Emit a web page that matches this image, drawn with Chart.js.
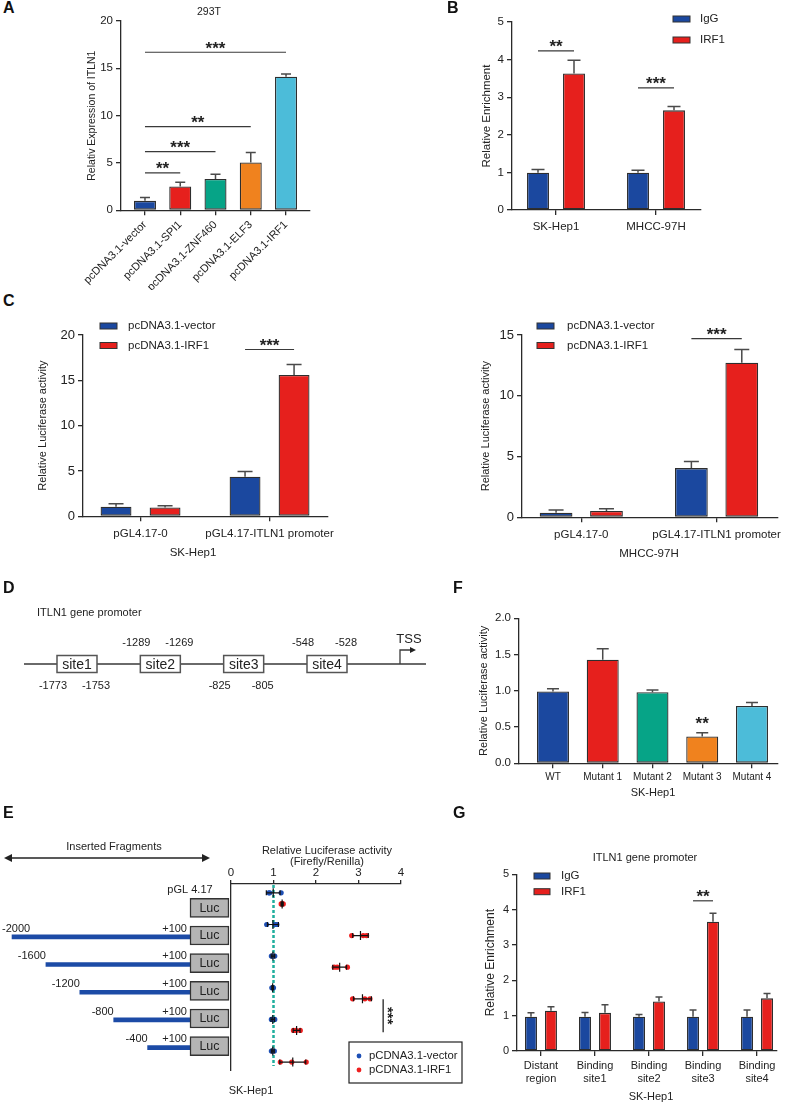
<!DOCTYPE html>
<html>
<head>
<meta charset="utf-8">
<title>IRF1 / ITLN1 figure</title>
<script src="https://cdn.jsdelivr.net/npm/chart.js@4.4.1/dist/chart.umd.min.js"></script>
<style>
  html, body { margin: 0; padding: 0; background: #fff; }
  #fig { position: relative; width: 788px; height: 1104px; background: #fff; overflow: hidden; }
  #fig canvas { position: absolute; }
  .tag { position: absolute; font: bold 16px/16px "Liberation Sans", Arial, sans-serif; color: #111; }
</style>
</head>
<body>
<div id="fig">
  <canvas id="cA"></canvas>
  <canvas id="cB"></canvas>
  <canvas id="cC1"></canvas>
  <canvas id="cC2"></canvas>
  <canvas id="cD"></canvas>
  <canvas id="cE1"></canvas>
  <canvas id="cE2"></canvas>
  <canvas id="cF"></canvas>
  <canvas id="cG"></canvas>
  <div class="tag" style="left:3px;top:0px">A</div>
  <div class="tag" style="left:447px;top:0px">B</div>
  <div class="tag" style="left:3px;top:293px">C</div>
  <div class="tag" style="left:3px;top:580px">D</div>
  <div class="tag" style="left:3px;top:805px">E</div>
  <div class="tag" style="left:453px;top:580px">F</div>
  <div class="tag" style="left:453px;top:805px">G</div>
</div>
<script>
// ---- data ----
// A: 293T, ITLN1 expression
const aLabels = ['pcDNA3.1-vector', 'pcDNA3.1-SPI1', 'pcDNA3.1-ZNF460', 'pcDNA3.1-ELF3', 'pcDNA3.1-IRF1'];
const aMean = [1.0, 2.52, 3.32, 5.05, 14.12];
const aErrTop = [1.34, 2.97, 3.8, 6.1, 14.4];
const aYTicks = [0, 5, 10, 15, 20];
const aSig = [[4, 16.7, '***'], [3, 8.85, '**'], [2, 6.2, '***'], [1, 3.95, '**']]; // vs vector

// B: ChIP, relative enrichment
const bGroups = ['SK-Hep1', 'MHCC-97H'];
const bIgG = [0.99, 0.99];
const bIgGErr = [1.08, 1.06];
const bIRF1 = [3.63, 2.65];
const bIRF1Err = [3.98, 2.75];
const bYTicks = [0, 1, 2, 3, 4, 5];
const bSig = [[0, 4.23, '**'], [1, 3.25, '***']];

// C: luciferase, two cell lines
const cGroups = ['pGL4.17-0', 'pGL4.17-ITLN1 promoter'];
const cSkVector = [1.05, 4.37];
const cSkVectorErr = [1.38, 4.95];
const cSkIRF1 = [0.98, 15.6];
const cSkIRF1Err = [1.16, 16.75];
const cSkYTicks = [0, 5, 10, 15, 20];
const cSkSig = [[1, 18.4, '***']];
const cMhVector = [0.38, 4.05];
const cMhVectorErr = [0.6, 4.6];
const cMhIRF1 = [0.52, 12.72];
const cMhIRF1Err = [0.71, 13.8];
const cMhYTicks = [0, 5, 10, 15];
const cMhSig = [[1, 14.7, '***']];

// D: promoter sites
const dSites = ['site1', 'site2', 'site3', 'site4'];
const dFrom = [-1773, -1289, -825, -548];
const dTo = [-1753, -1269, -805, -528];

// E: truncation constructs (row 0 = empty pGL4.17)
const eStart = [null, -2000, -1600, -1200, -800, -400];
const eEnd = 100;
const eVector = [[0.91, 0.89, 1.18], [0.84, 1.04, 1.08], [0.95, 1.03, 0.98], [0.96, 1.0, 0.98], [0.95, 1.03, 0.97], [0.95, 1.02, 0.98]];
const eIRF1 = [[1.18, 1.2, 1.23], [2.84, 3.11, 3.19], [2.43, 2.5, 2.74], [2.86, 3.15, 3.27], [1.47, 1.53, 1.63], [1.16, 1.43, 1.77]];
const eXTicks = [0, 1, 2, 3, 4];
const eRef = 1;
const eSig = { x: 3.58, from: 3.2, to: 4.25, text: '***' };

// F: site mutants
const fLabels = ['WT', 'Mutant 1', 'Mutant 2', 'Mutant 3', 'Mutant 4'];
const fMean = [0.99, 1.43, 0.98, 0.37, 0.79];
const fErrTop = [1.03, 1.58, 1.01, 0.42, 0.84];
const fYTicks = [0, 0.5, 1, 1.5, 2];
const fSig = [[3, 0.5, '**']];

// G: ChIP on binding sites
const gLabels = [['Distant', 'region'], ['Binding', 'site1'], ['Binding', 'site2'], ['Binding', 'site3'], ['Binding', 'site4']];
const gIgG = [0.97, 0.97, 0.97, 0.97, 0.97];
const gIgGErr = [1.08, 1.09, 1.03, 1.16, 1.16];
const gIRF1 = [1.14, 1.08, 1.4, 3.66, 1.49];
const gIRF1Err = [1.25, 1.31, 1.53, 3.9, 1.63];
const gYTicks = [0, 1, 2, 3, 4, 5];
const gSig = [[3, 4.25, '**']];

// ---- style ----
const FONT = '"Liberation Sans", Arial, sans-serif';
const TXT = '#222';
const AX = '#2a2a2a';
const BLUE = '#1b489f', RED = '#e6201d', GREEN = '#06a487', ORANGE = '#f0821e', CYAN = '#4cbcd9';

Chart.defaults.font.family = FONT;
Chart.defaults.color = TXT;
Chart.defaults.animation = false;
Chart.defaults.responsive = false;
Chart.defaults.plugins.legend.display = false;
Chart.defaults.plugins.tooltip.enabled = false;

function place(id, box) {
  const cv = document.getElementById(id);
  cv.width = box[2];
  cv.height = box[3];
  cv.style.left = box[0] + 'px';
  cv.style.top = box[1] + 'px';
  return cv;
}

// free text, given in page coordinates
function textLayer(items) {
  return {
    id: 'textLayer',
    afterDraw(chart) {
      const ctx = chart.ctx, ox = chart.canvas.offsetLeft, oy = chart.canvas.offsetTop;
      items.forEach(it => {
        ctx.save();
        ctx.font = (it.w || '') + ' ' + (it.s || 11) + 'px ' + FONT;
        ctx.fillStyle = TXT;
        ctx.textAlign = it.a || 'center';
        ctx.textBaseline = 'middle';
        ctx.translate(it.x - ox, it.y - oy);
        if (it.r) ctx.rotate(it.r);
        ctx.fillText(it.t, 0, 0);
        ctx.restore();
      });
    }
  };
}

function errorBars(cap) {
  return {
    id: 'errorBars',
    afterDatasetsDraw(chart) {
      const ctx = chart.ctx, ys = chart.scales.y;
      chart.data.datasets.forEach((ds, di) => {
        chart.getDatasetMeta(di).data.forEach((bar, i) => {
          const top = ys.getPixelForValue(ds.err[i]);
          ctx.save();
          ctx.strokeStyle = '#4a4a4a';
          ctx.lineWidth = 1.5;
          ctx.beginPath();
          ctx.moveTo(bar.x, bar.y);
          ctx.lineTo(bar.x, top);
          ctx.moveTo(bar.x - cap / 2, top);
          ctx.lineTo(bar.x + cap / 2, top);
          ctx.stroke();
          ctx.restore();
        });
      });
    }
  };
}

function sigMarks(marks) {
  return {
    id: 'sigMarks',
    afterDatasetsDraw(chart) {
      const ctx = chart.ctx, ys = chart.scales.y;
      marks.forEach(m => {
        const a = chart.getDatasetMeta(m.a[0]).data[m.a[1]];
        const b = chart.getDatasetMeta(m.b[0]).data[m.b[1]];
        const y = ys.getPixelForValue(m.y);
        ctx.save();
        if (m.line !== false) {
          ctx.strokeStyle = '#3a3a3a';
          ctx.lineWidth = 1.2;
          ctx.beginPath();
          ctx.moveTo(a.x, y);
          ctx.lineTo(b.x, y);
          ctx.stroke();
        }
        ctx.fillStyle = TXT;
        ctx.font = 'bold 17px ' + FONT;
        ctx.textAlign = 'center';
        ctx.textBaseline = 'alphabetic';
        ctx.fillText(m.text, (a.x + b.x) / 2, y + 1.5);
        ctx.restore();
      });
    }
  };
}

function boxLegend(cfg) {
  return {
    id: 'boxLegend',
    afterDraw(chart) {
      if (!cfg) return;
      const ctx = chart.ctx, ox = chart.canvas.offsetLeft, oy = chart.canvas.offsetTop;
      chart.data.datasets.forEach((ds, i) => {
        const y = cfg.y + i * cfg.dy - oy;
        ctx.save();
        ctx.fillStyle = ds.backgroundColor;
        ctx.fillRect(cfg.x - ox, y - cfg.h / 2, cfg.w, cfg.h);
        ctx.strokeStyle = '#333';
        ctx.lineWidth = 1;
        ctx.strokeRect(cfg.x - ox, y - cfg.h / 2, cfg.w, cfg.h);
        ctx.fillStyle = TXT;
        ctx.font = cfg.size + 'px ' + FONT;
        ctx.textAlign = 'left';
        ctx.textBaseline = 'middle';
        ctx.fillText(ds.label, cfg.tx - ox, y);
        ctx.restore();
      });
    }
  };
}

// bar chart on a linear index axis so the group spacing can be set exactly
function barChart(o) {
  const [bx, by, bw, bh] = o.box;
  const [l, t, r, b] = o.area;
  const cv = place(o.id, o.box);
  const padL = o.yTitleX - bx - o.yTitleSize * 0.6;
  return new Chart(cv, {
    type: 'bar',
    data: {
      datasets: o.series.map(s => ({
        label: s.label,
        data: s.values.map((v, i) => ({ x: i, y: v })),
        err: s.err,
        backgroundColor: s.color,
        borderColor: '#2e2e2e',
        borderWidth: 1.3,
        borderSkipped: false,
        categoryPercentage: o.catPct,
        barPercentage: o.barPct
      }))
    },
    options: {
      layout: { padding: { left: padL, top: t - by, right: bx + bw - r, bottom: 0 } },
      scales: {
        x: {
          type: 'linear', min: o.xRange[0], max: o.xRange[1], offset: false,
          afterBuildTicks: s => { s.ticks = o.labels.map((_, i) => ({ value: i })); },
          afterFit: s => { s.height = by + bh - b; },
          grid: { offset: false, drawOnChartArea: false, tickLength: 5, color: AX, lineWidth: 1.3 },
          border: { color: AX, width: 1.3 },
          ticks: {
            autoSkip: false, maxRotation: o.rot || 0, minRotation: o.rot || 0,
            padding: o.xPad, color: TXT, font: { size: o.xFont },
            callback: v => o.labels[v]
          }
        },
        y: {
          min: o.yTicks[0], max: o.yTicks[o.yTicks.length - 1],
          afterBuildTicks: s => { s.ticks = o.yTicks.map(v => ({ value: v })); },
          afterFit: s => { s.width = l - bx - padL; },
          grid: { drawOnChartArea: false, tickLength: 5, color: AX, lineWidth: 1.3 },
          border: { color: AX, width: 1.3 },
          ticks: { padding: 3, color: TXT, font: { size: o.yFont }, callback: o.yFmt || (v => v) },
          title: { display: true, text: o.yTitle, color: TXT, font: { size: o.yTitleSize }, padding: 0 }
        }
      }
    },
    plugins: [errorBars(o.cap), sigMarks(o.sig || []), boxLegend(o.legend), textLayer(o.texts || [])]
  });
}

const pairSig = list => list.map(([g, y, text]) => ({ a: [0, g], b: [1, g], y, text }));

// ---- A ----
barChart({
  id: 'cA', box: [40, 0, 300, 290], area: [121, 21, 310, 210.3],
  xRange: [-0.68, 4.68], catPct: 1, barPct: 0.624,
  labels: aLabels, rot: 45, xFont: 11, xPad: 3,
  yTicks: aYTicks, yFont: 11.5, yTitle: 'Relativ Expression of ITLN1', yTitleX: 92, yTitleSize: 10.5,
  series: [{ label: '293T', values: aMean, err: aErrTop, color: [BLUE, RED, GREEN, ORANGE, CYAN] }],
  cap: 10,
  sig: aSig.map(([j, y, text]) => ({ a: [0, 0], b: [0, j], y, text })),
  texts: [{ t: '293T', x: 209, y: 12, s: 10.5 }]
});

// ---- B ----
barChart({
  id: 'cB', box: [420, 0, 368, 240], area: [512, 22, 701, 210],
  xRange: [-0.44, 1.45], catPct: 0.72, barPct: 0.61,
  labels: bGroups, xFont: 11.5, xPad: 5,
  yTicks: bYTicks, yFont: 11.5, yTitle: 'Relative Enrichment', yTitleX: 487, yTitleSize: 11.5,
  series: [
    { label: 'IgG', values: bIgG, err: bIgGErr, color: BLUE },
    { label: 'IRF1', values: bIRF1, err: bIRF1Err, color: RED }
  ],
  cap: 13, sig: pairSig(bSig),
  legend: { x: 673, y: 19, dy: 21, w: 17, h: 6, tx: 700, size: 11.5 }
});

// ---- C ----
barChart({
  id: 'cC1', box: [20, 300, 370, 265], area: [83, 335, 328, 516.3],
  xRange: [-0.446, 1.453], catPct: 0.76, barPct: 0.63,
  labels: cGroups, xFont: 11.5, xPad: 5.5,
  yTicks: cSkYTicks, yFont: 13, yTitle: 'Relative Luciferase activity', yTitleX: 43, yTitleSize: 11,
  series: [
    { label: 'pcDNA3.1-vector', values: cSkVector, err: cSkVectorErr, color: BLUE },
    { label: 'pcDNA3.1-IRF1', values: cSkIRF1, err: cSkIRF1Err, color: RED }
  ],
  cap: 15, sig: pairSig(cSkSig),
  legend: { x: 100, y: 326, dy: 19.5, w: 17, h: 6, tx: 128, size: 11.5 },
  texts: [{ t: 'SK-Hep1', x: 193, y: 553, s: 11.5 }]
});

barChart({
  id: 'cC2', box: [410, 300, 378, 265], area: [522, 335, 781, 517.3],
  xRange: [-0.438, 1.453], catPct: 0.745, barPct: 0.65,
  labels: cGroups, xFont: 11.5, xPad: 5.5,
  yTicks: cMhYTicks, yFont: 13, yTitle: 'Relative Luciferase activity', yTitleX: 486, yTitleSize: 11,
  series: [
    { label: 'pcDNA3.1-vector', values: cMhVector, err: cMhVectorErr, color: BLUE },
    { label: 'pcDNA3.1-IRF1', values: cMhIRF1, err: cMhIRF1Err, color: RED }
  ],
  cap: 15, sig: pairSig(cMhSig),
  legend: { x: 537, y: 326, dy: 19.5, w: 17, h: 6, tx: 567, size: 11.5 },
  texts: [{ t: 'MHCC-97H', x: 649, y: 554, s: 11.5 }]
});

// ---- D: promoter scheme ----
(function () {
  const cv = place('cD', [0, 600, 440, 128]);
  const lineFrom = 0.364, lineTo = 5.188, tssAt = 4.876, boxHalf = 20, boxH = 17;
  new Chart(cv, {
    type: 'scatter',
    data: { datasets: [] },
    options: {
      scales: {
        x: { display: false, min: 0.076, max: 5.356 },
        y: { display: false, min: -1, max: 1 }
      }
    },
    plugins: [{
      id: 'promoter',
      afterDraw(chart) {
        const ctx = chart.ctx, xs = chart.scales.x, ys = chart.scales.y;
        const y0 = ys.getPixelForValue(0);
        ctx.save();
        ctx.strokeStyle = '#3a3a3a';
        ctx.lineWidth = 1.3;
        ctx.beginPath();
        ctx.moveTo(xs.getPixelForValue(lineFrom), y0);
        ctx.lineTo(xs.getPixelForValue(lineTo), y0);
        // TSS arrow
        const tx = xs.getPixelForValue(tssAt);
        ctx.moveTo(tx, y0);
        ctx.lineTo(tx, y0 - 14);
        ctx.lineTo(tx + 11, y0 - 14);
        ctx.stroke();
        ctx.fillStyle = '#222';
        ctx.beginPath();
        ctx.moveTo(tx + 16, y0 - 14);
        ctx.lineTo(tx + 10, y0 - 17);
        ctx.lineTo(tx + 10, y0 - 11);
        ctx.closePath();
        ctx.fill();
        ctx.textAlign = 'center';
        ctx.textBaseline = 'middle';
        ctx.font = '13px ' + FONT;
        ctx.fillText('TSS', tx + 9, y0 - 25);
        dSites.forEach((name, i) => {
          const cx = xs.getPixelForValue(i + 1);
          ctx.fillStyle = '#fff';
          ctx.fillRect(cx - boxHalf, y0 - boxH / 2, boxHalf * 2, boxH);
          ctx.strokeStyle = '#555';
          ctx.lineWidth = 1.5;
          ctx.strokeRect(cx - boxHalf, y0 - boxH / 2, boxHalf * 2, boxH);
          ctx.fillStyle = TXT;
          ctx.font = '14px ' + FONT;
          ctx.fillText(name, cx, y0 + 1);
          const ly = i % 2 ? y0 - 21 : y0 + 22;
          ctx.font = '11px ' + FONT;
          ctx.fillText(String(dFrom[i]), cx - boxHalf - 4, ly);
          ctx.fillText(String(dTo[i]), cx + boxHalf - 1, ly);
        });
        ctx.restore();
      }
    }, textLayer([{ t: 'ITLN1 gene promoter', x: 37, y: 613, s: 11, a: 'left' }])]
  });
})();

// ---- E left: inserted fragments ----
(function () {
  const cv = place('cE1', [0, 840, 231, 260]);
  const rows = eStart.map((s, r) => r);
  new Chart(cv, {
    type: 'bar',
    data: {
      datasets: [
        {
          label: 'Luc',
          data: rows.map(r => ({ x: [eEnd, eEnd + 460], y: r })),
          backgroundColor: '#b4b4b4', borderColor: '#333', borderWidth: 1.5, borderSkipped: false,
          barThickness: 19, grouped: false
        },
        {
          label: 'Inserted fragment',
          data: rows.filter(r => eStart[r] !== null).map(r => ({ x: [eStart[r], eEnd], y: r + 0.05 })),
          backgroundColor: '#1c4ba6', borderWidth: 0, barThickness: 4, grouped: false
        }
      ]
    },
    options: {
      indexAxis: 'y',
      layout: { padding: { top: 44, bottom: 30, left: 0, right: 0 } },
      scales: {
        x: { type: 'linear', display: false, min: -2142, max: 584 },
        y: { type: 'linear', display: false, reverse: true, min: -0.44, max: 5.44 }
      }
    },
    plugins: [{
      id: 'fragLabels',
      afterDatasetsDraw(chart) {
        const ctx = chart.ctx, xs = chart.scales.x, ys = chart.scales.y, oy = chart.canvas.offsetTop;
        const endPx = xs.getPixelForValue(eEnd);
        const lucMid = (endPx + xs.getPixelForValue(eEnd + 460)) / 2;
        ctx.save();
        ctx.fillStyle = TXT;
        ctx.textBaseline = 'middle';
        rows.forEach(r => {
          const y = ys.getPixelForValue(r);
          ctx.font = '12.5px ' + FONT;
          ctx.textAlign = 'center';
          ctx.fillText('Luc', lucMid, y + 0.5);
          ctx.font = '11px ' + FONT;
          if (eStart[r] === null) {
            ctx.fillText('pGL 4.17', endPx, y - 18);
            return;
          }
          const lab = String(eStart[r]);
          const w = ctx.measureText(lab).width;
          ctx.textAlign = 'left';
          ctx.fillText(lab, Math.max(2, xs.getPixelForValue(eStart[r]) - w), y - 7);
          ctx.textAlign = 'right';
          ctx.fillText('+' + eEnd, endPx - 3, y - 7);
        });
        // double arrow over the fragments
        const ay = 858 - oy;
        ctx.strokeStyle = '#222';
        ctx.lineWidth = 1.3;
        ctx.beginPath();
        ctx.moveTo(8, ay);
        ctx.lineTo(206, ay);
        ctx.stroke();
        ctx.fillStyle = '#222';
        ctx.beginPath();
        ctx.moveTo(4, ay); ctx.lineTo(12, ay - 4); ctx.lineTo(12, ay + 4); ctx.closePath();
        ctx.moveTo(210, ay); ctx.lineTo(202, ay - 4); ctx.lineTo(202, ay + 4); ctx.closePath();
        ctx.fill();
        ctx.restore();
      }
    }, textLayer([{ t: 'Inserted Fragments', x: 114, y: 847, s: 11 }])]
  });
})();

// ---- E right: luciferase dot plot ----
(function () {
  const cv = place('cE2', [200, 840, 270, 260]);
  const blueOff = -0.16, redOff = 0.19;
  const toPts = (rowsVals, off) => rowsVals.flatMap((vals, r) => vals.map(v => ({ x: v, y: r + off })));
  const series = [[eVector, blueOff], [eIRF1, redOff]];
  new Chart(cv, {
    type: 'scatter',
    data: {
      datasets: [
        { label: 'pCDNA3.1-vector', data: toPts(eVector, blueOff), backgroundColor: '#1d4fb5', borderWidth: 0, pointRadius: 2.6 },
        { label: 'pCDNA3.1-IRF1', data: toPts(eIRF1, redOff), backgroundColor: '#ee1f1f', borderWidth: 0, pointRadius: 2.6 }
      ]
    },
    options: {
      layout: { padding: { left: 0, top: 0, right: 69, bottom: 30 } },
      scales: {
        x: {
          type: 'linear', position: 'top', min: 0, max: 4,
          afterBuildTicks: s => { s.ticks = eXTicks.map(v => ({ value: v })); },
          afterFit: s => { s.height = 44; },
          grid: { drawOnChartArea: false, tickLength: 4, color: AX, lineWidth: 1.3 },
          border: { color: AX, width: 1.3 },
          ticks: { padding: 0, color: TXT, font: { size: 11.5 } }
        },
        y: {
          type: 'linear', reverse: true, min: -0.44, max: 5.44,
          afterFit: s => { s.width = 31; },
          grid: { drawOnChartArea: false, drawTicks: false },
          border: { color: AX, width: 1.3 },
          ticks: { display: false }
        }
      }
    },
    plugins: [{
      id: 'eMarks',
      beforeDatasetsDraw(chart) {
        const ctx = chart.ctx, a = chart.chartArea;
        const x = chart.scales.x.getPixelForValue(eRef);
        ctx.save();
        ctx.strokeStyle = '#1fae9d';
        ctx.lineWidth = 2.5;
        ctx.setLineDash([3, 2]);
        ctx.beginPath();
        ctx.moveTo(x, a.top + 1);
        ctx.lineTo(x, a.bottom - 4);
        ctx.stroke();
        ctx.restore();
      },
      afterDatasetsDraw(chart) {
        const ctx = chart.ctx, xs = chart.scales.x, ys = chart.scales.y;
        ctx.save();
        ctx.strokeStyle = '#111';
        ctx.lineWidth = 1.2;
        series.forEach(([rowsVals, off]) => {
          rowsVals.forEach((vals, r) => {
            const m = vals.reduce((p, c) => p + c, 0) / vals.length;
            const sd = Math.sqrt(vals.reduce((p, c) => p + (c - m) * (c - m), 0) / (vals.length - 1));
            const y = ys.getPixelForValue(r + off);
            const x0 = xs.getPixelForValue(m - sd), x1 = xs.getPixelForValue(m + sd), xm = xs.getPixelForValue(m);
            ctx.beginPath();
            ctx.moveTo(x0, y); ctx.lineTo(x1, y);
            ctx.moveTo(x0, y - 2.5); ctx.lineTo(x0, y + 2.5);
            ctx.moveTo(x1, y - 2.5); ctx.lineTo(x1, y + 2.5);
            ctx.moveTo(xm, y - 4.5); ctx.lineTo(xm, y + 4.5);
            ctx.stroke();
          });
        });
        // significance bar across the IRF1 rows
        const sx = xs.getPixelForValue(eSig.x);
        ctx.strokeStyle = '#222';
        ctx.lineWidth = 1.3;
        ctx.beginPath();
        ctx.moveTo(sx, ys.getPixelForValue(eSig.from));
        ctx.lineTo(sx, ys.getPixelForValue(eSig.to));
        ctx.stroke();
        ctx.translate(sx + 6, (ys.getPixelForValue(eSig.from) + ys.getPixelForValue(eSig.to)) / 2);
        ctx.rotate(Math.PI / 2);
        ctx.fillStyle = TXT;
        ctx.font = 'bold 15px ' + FONT;
        ctx.textAlign = 'center';
        ctx.textBaseline = 'middle';
        ctx.fillText(eSig.text, 0, 2);
        ctx.restore();
      },
      afterDraw(chart) {
        const ctx = chart.ctx, ox = chart.canvas.offsetLeft, oy = chart.canvas.offsetTop;
        ctx.save();
        ctx.strokeStyle = '#222';
        ctx.lineWidth = 1.2;
        ctx.strokeRect(349 - ox, 1042 - oy, 113, 41);
        chart.data.datasets.forEach((ds, i) => {
          const y = 1056 + i * 14 - oy;
          ctx.fillStyle = ds.backgroundColor;
          ctx.beginPath();
          ctx.arc(359 - ox, y, 2.4, 0, Math.PI * 2);
          ctx.fill();
          ctx.fillStyle = TXT;
          ctx.font = '11.3px ' + FONT;
          ctx.textAlign = 'left';
          ctx.textBaseline = 'middle';
          ctx.fillText(ds.label, 369 - ox, y);
        });
        ctx.restore();
      }
    }, textLayer([
      { t: 'Relative Luciferase activity', x: 327, y: 851, s: 11 },
      { t: '(Firefly/Renilla)', x: 327, y: 862, s: 11 },
      { t: 'SK-Hep1', x: 251, y: 1091, s: 11 }
    ])]
  });
})();

// ---- F ----
barChart({
  id: 'cF', box: [462, 600, 326, 200], area: [519, 618.3, 778, 763.3],
  xRange: [-0.683, 4.523], catPct: 1, barPct: 0.643,
  labels: fLabels, xFont: 10, xPad: 3,
  yTicks: fYTicks, yFont: 11.5, yFmt: v => v.toFixed(1),
  yTitle: 'Relative Luciferase activity', yTitleX: 484, yTitleSize: 11,
  series: [{ label: 'SK-Hep1', values: fMean, err: fErrTop, color: [BLUE, RED, GREEN, ORANGE, CYAN] }],
  cap: 12,
  sig: fSig.map(([j, y, text]) => ({ a: [0, j], b: [0, j], y, text, line: false })),
  texts: [{ t: 'SK-Hep1', x: 653, y: 793, s: 11 }]
});

// ---- G ----
barChart({
  id: 'cG', box: [462, 845, 326, 259], area: [517, 874.3, 777, 1051],
  xRange: [-0.444, 4.37], catPct: 0.74, barPct: 0.6,
  labels: gLabels, xFont: 11, xPad: 3.4,
  yTicks: gYTicks, yFont: 11, yTitle: 'Relative Enrichment', yTitleX: 491, yTitleSize: 12,
  series: [
    { label: 'IgG', values: gIgG, err: gIgGErr, color: BLUE },
    { label: 'IRF1', values: gIRF1, err: gIRF1Err, color: RED }
  ],
  cap: 7, sig: pairSig(gSig),
  legend: { x: 534, y: 876, dy: 15.7, w: 16, h: 6, tx: 561, size: 11.5 },
  texts: [
    { t: 'ITLN1 gene promoter', x: 645, y: 858, s: 11 },
    { t: 'SK-Hep1', x: 651, y: 1097, s: 11 }
  ]
});
</script>
</body>
</html>
